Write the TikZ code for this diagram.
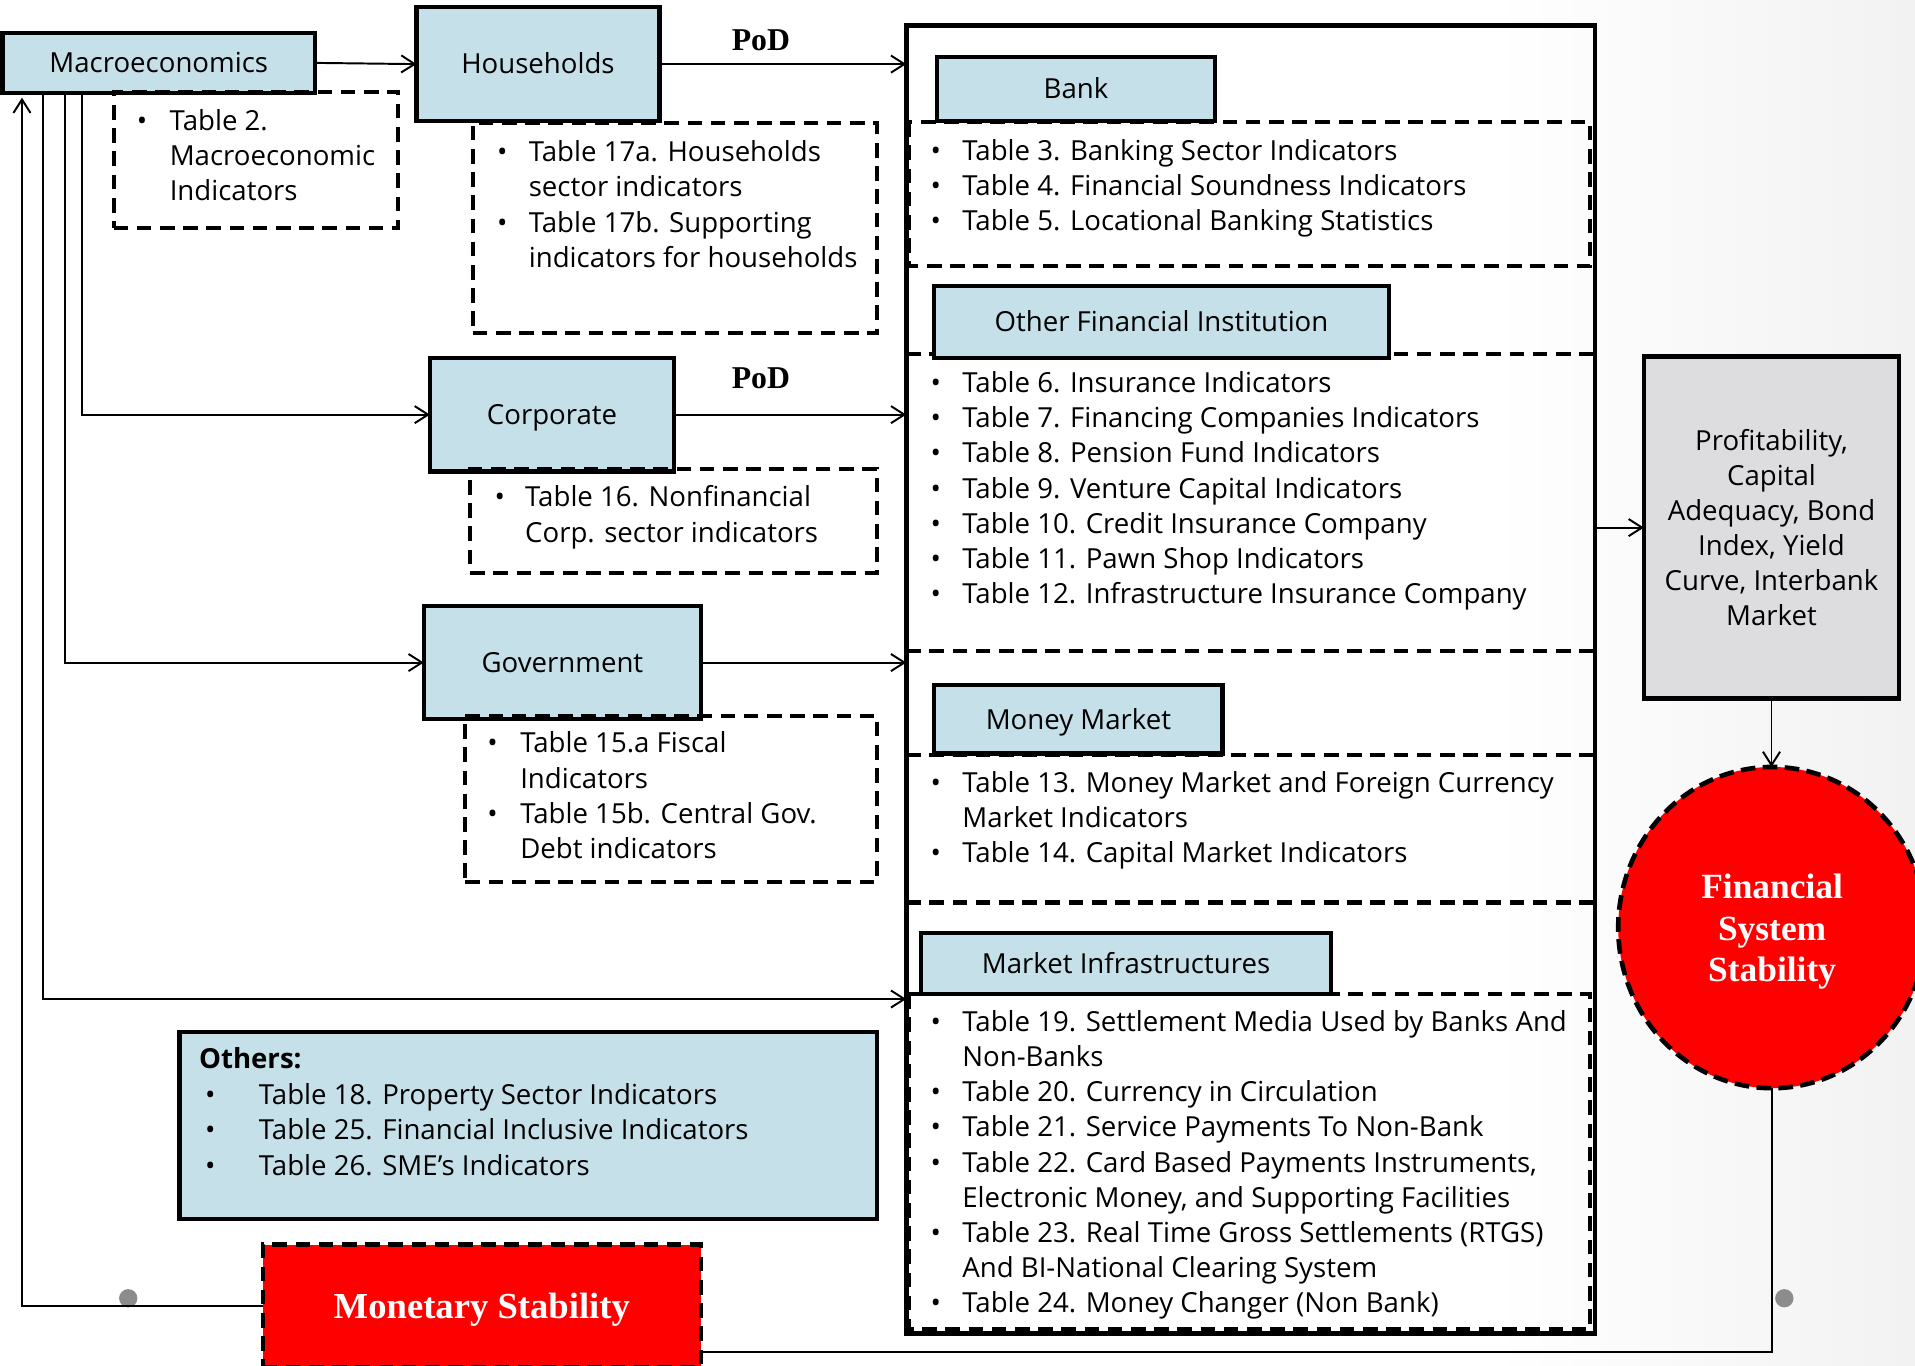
\documentclass[tikz,border=0pt]{standalone}
\usepackage{fontspec}
\setmainfont{Open Sans}
\newfontfamily\serifb{Liberation Serif}
\usetikzlibrary{arrows.meta,shapes.geometric}
\definecolor{lblue}{RGB}{197,224,232}
\definecolor{pgray}{RGB}{221,221,224}
\definecolor{dotgray}{RGB}{140,140,140}
\definecolor{bgedge}{RGB}{212,212,212}
\pgfdeclarehorizontalshading{bgshade}{100bp}{color(0bp)=(bgedge); color(24bp)=(white); color(64bp)=(white); color(100bp)=(bgedge)}
\newcommand\blist[2]{\begin{tabular}[t]{@{}p{#1}@{}l@{}}#2\end{tabular}}
\begin{document}
\begin{tikzpicture}[x=0.5pt,y=-0.5pt,
  every node/.style={inner sep=0pt,outer sep=0pt},
  body/.style={font=\fontsize{11.3}{14.4}\selectfont},
  txt/.style={body,anchor=base west},
  bluebox/.style={draw,line width=1.7pt,fill=lblue,body,text height=8pt,text depth=0pt},
  dbox/.style={draw,line width=1.7pt,dash pattern=on 6pt off 3.5pt},
  dln/.style={line width=1.7pt,dash pattern=on 6pt off 3.5pt},
  conn/.style={line width=0.8pt,-{Straight Barb[length=5.5pt,width=7pt]}},
  plain/.style={line width=0.8pt},
  pod/.style={font=\serifb\bfseries\fontsize{13}{15}\selectfont},
  dot/.style={circle,fill=dotgray,minimum size=7.5pt}
]
\useasboundingbox (0,0) rectangle (1568,1118);
\shade[shading=bgshade] (0,0) rectangle (1568,1118);

% container
\node[draw,line width=1.9pt,minimum width=282pt,minimum height=535.5pt] (container) at (1024,556.5) {};
\draw[dln] (744,100) rectangle (1302,218);
\draw[dln] (742,290) -- (1306,290);
\draw[dln] (742,533) -- (1306,533);
\draw[dln] (742,618) -- (1306,618);
\draw[dln] (742,739) -- (1306,739);
\draw[dln] (744,814) rectangle (1302,1088);

% section headers
\node[bluebox,minimum width=114pt,minimum height=26pt] (bank) at (881,73) {Bank};
\node[bluebox,minimum width=186pt,minimum height=29.5pt] (ofi) at (951,263.5) {Other Financial Institution};
\node[bluebox,minimum width=118pt,minimum height=28pt] (mm) at (883,589) {Money Market};
\node[bluebox,minimum width=168pt,minimum height=25pt] (mi) at (922,789) {Market Infrastructures};

% section lists
\node[txt] (banklist) at (762,131.5) {\blist{13pt}{%
\textbullet & Table 3. Banking Sector Indicators\\
\textbullet & Table 4. Financial Soundness Indicators\\
\textbullet & Table 5. Locational Banking Statistics}};
\node[txt] (ofilist) at (762,321.5) {\blist{13pt}{%
\textbullet & Table 6. Insurance Indicators\\
\textbullet & Table 7. Financing Companies Indicators\\
\textbullet & Table 8. Pension Fund Indicators\\
\textbullet & Table 9. Venture Capital Indicators\\
\textbullet & Table 10. Credit Insurance Company\\
\textbullet & Table 11. Pawn Shop Indicators\\
\textbullet & Table 12. Infrastructure Insurance Company}};
\node[txt] (mmlist) at (762,648.5) {\blist{13pt}{%
\textbullet & Table 13. Money Market and Foreign Currency\\
 & Market Indicators\\
\textbullet & Table 14. Capital Market Indicators}};
\node[txt] (milist) at (762,844.5) {\blist{13pt}{%
\textbullet & Table 19. Settlement Media Used by Banks And\\
 & Non-Banks\\
\textbullet & Table 20. Currency in Circulation\\
\textbullet & Table 21. Service Payments To Non-Bank\\
\textbullet & Table 22. Card Based Payments Instruments,\\
 & Electronic Money, and Supporting Facilities\\
\textbullet & Table 23. Real Time Gross Settlements (RTGS)\\
 & And BI-National Clearing System\\
\textbullet & Table 24. Money Changer (Non Bank)}};

% left column boxes
\node[bluebox,minimum width=128pt,minimum height=24.5pt] (macro) at (130,51.5) {Macroeconomics};
\node[bluebox,minimum width=99.5pt,minimum height=46.5pt] (households) at (440.5,52.5) {Households};
\node[bluebox,minimum width=100pt,minimum height=46.5pt] (corporate) at (452,339.5) {Corporate};
\node[bluebox,minimum width=113.5pt,minimum height=46.5pt] (government) at (460.5,542.5) {Government};

\node[dbox,minimum width=116.5pt,minimum height=56pt] (tab2) at (209.5,131) {};
\node[dbox,minimum width=165.5pt,minimum height=86pt] (tab17) at (552.5,187) {};
\node[dbox,minimum width=166.5pt,minimum height=42.5pt] (tab16) at (551.5,426.5) {};
\node[dbox,minimum width=168.5pt,minimum height=68pt] (tab15) at (549.5,654) {};

\node[txt] (tab2list) at (112,106.5) {\blist{13.5pt}{%
\textbullet & Table 2.\\
 & Macroeconomic\\
 & Indicators}};
\node[txt] (tab17list) at (407,132.5) {\blist{13pt}{%
\textbullet & Table 17a. Households\\
 & sector indicators\\
\textbullet & Table 17b. Supporting\\
 & indicators for households}};
\node[txt] (tab16list) at (405,414.5) {\blist{12.5pt}{%
\textbullet & Table 16. Nonfinancial\\[0.6pt]
 & Corp. sector indicators}};
\node[txt] (tab15list) at (399,616.5) {\blist{13.5pt}{%
\textbullet & Table 15.a Fiscal\\
 & Indicators\\
\textbullet & Table 15b. Central Gov.\\
 & Debt indicators}};

% others
\node[draw,line width=1.7pt,fill=lblue,minimum width=285.5pt,minimum height=76.5pt] (others) at (432.5,921.5) {};
\node[txt,font=\bfseries\fontsize{11.3}{14.4}\selectfont] (otherstitle) at (163,874.5) {Others:};
\node[txt] (otherslist) at (168,904.5) {\blist{22pt}{%
\textbullet & Table 18. Property Sector Indicators\\
\textbullet & Table 25. Financial Inclusive Indicators\\
\textbullet & Table 26. SME’s Indicators}};

% monetary stability
\node[draw,fill=red,line width=1.7pt,dash pattern=on 6pt off 3.5pt,minimum width=179.5pt,minimum height=50pt,
  text=white,text depth=0pt,font=\serifb\bfseries\fontsize{15}{17}\selectfont] (monetary) at (394.5,1069) {Monetary Stability};

% right column
\node[draw,line width=1.9pt,fill=pgray,minimum width=104.5pt,minimum height=140pt,align=center,body] (profit) at (1450.5,432)
  {Profitability,\\Capital\\Adequacy, Bond\\Index, Yield\\Curve, Interbank\\Market};
\node[ellipse,draw,fill=red,line width=1.9pt,dash pattern=on 6pt off 3pt,minimum width=126pt,minimum height=131.5pt] (fss) at (1451,759.5) {};
\node[align=center,text=white,font=\serifb\bfseries\fontsize{14.5}{17}\selectfont] (fsstext) at (1451,763)
  {Financial\\System\\Stability};

% decorative dots
\node[dot] (dot1) at (105,1063) {};
\node[dot] (dot2) at (1461,1063) {};

% PoD labels
\node[pod] (pod1) at (623,33) {PoD};
\node[pod] (pod2) at (623,310) {PoD};

% connectors
\coordinate (xA) at (18,0);
\coordinate (xB) at (35,818);
\coordinate (xC) at (53,0);
\coordinate (xD) at (67,0);
\coordinate (yBot) at (1451,1107);

\draw[conn] (macro.east) -- (households.west);
\draw[conn] (households.east) -- (households.east -| container.west);
\draw[conn] (corporate.east) -- (corporate.east -| container.west);
\draw[conn] (government.east) -- (government.east -| container.west);
\draw[conn] (xD |- macro.south) |- (corporate.west);
\draw[conn] (xC |- macro.south) |- (government.west);
\draw[conn] (xB |- macro.south) -- (xB) -- (xB -| container.west);
\draw[conn,shorten >=2pt] (monetary.west) -| (xA |- macro.south);
\draw[conn] (container.east |- profit.west) -- (profit.west);
\draw[conn] (profit.south) -- (profit.south |- fss.north);
\draw[plain] (fss.south) |- (monetary.east |- yBot);
\end{tikzpicture}
\end{document}
